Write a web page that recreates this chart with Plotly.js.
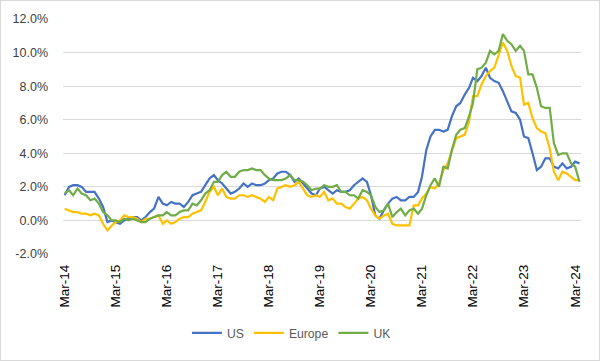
<!DOCTYPE html>
<html>
<head>
<meta charset="utf-8">
<script src="https://cdn.plot.ly/plotly-3.0.1.min.js"></script>
<style>
html,body{margin:0;padding:0;background:#fff;}
#chart{width:598px;height:359px;border:1px solid #d9d9d9;}
</style>
</head>
<body>
<div id="chart"></div>
<script>
// Monthly dates Mar-2014 .. Apr-2024
const startYear = 2014, startMonth = 3, nMonths = 122;
const dates = [];
for (let i = 0; i < nMonths; i++) {
  const m0 = startMonth - 1 + i;
  const y = startYear + Math.floor(m0 / 12);
  const m = (m0 % 12) + 1;
  dates.push(y + '-' + String(m).padStart(2, '0') + '-01');
}

const usValues = [
  1.5, 2.0, 2.1, 2.1, 2.0, 1.7, 1.7, 1.7, 1.3, 0.8,
  -0.1, 0.0, -0.1, -0.2, 0.0, 0.1, 0.2, 0.2, 0.0, 0.2, 0.5, 0.7,
  1.4, 1.0, 0.9, 1.1, 1.0, 1.0, 0.8, 1.1, 1.5, 1.6, 1.7, 2.1,
  2.5, 2.7, 2.4, 2.2, 1.9, 1.6, 1.7, 1.9, 2.2, 2.0, 2.2, 2.1,
  2.1, 2.2, 2.4, 2.5, 2.8, 2.9, 2.9, 2.7, 2.3, 2.5, 2.2, 1.9,
  1.6, 1.5, 1.9, 2.0, 1.8, 1.6, 1.8, 1.7, 1.7, 1.8, 2.1, 2.3,
  2.5, 2.3, 1.5, 0.3, 0.1, 0.6, 1.0, 1.3, 1.4, 1.2, 1.2, 1.4,
  1.4, 1.7, 2.6, 4.2, 5.0, 5.4, 5.4, 5.3, 5.4, 6.2, 6.8, 7.0,
  7.5, 7.9, 8.5, 8.3, 8.6, 9.1, 8.5, 8.3, 8.2, 7.7, 7.1, 6.5,
  6.4, 6.0, 5.0, 4.9, 4.0, 3.0, 3.2, 3.7, 3.7, 3.2, 3.1, 3.4,
  3.1, 3.2, 3.5, 3.4
];

const europeValues = [
  0.7, 0.6, 0.5, 0.5, 0.4, 0.4, 0.3, 0.4, 0.3, -0.2,
  -0.6, -0.3, -0.1, 0.0, 0.3, 0.2, 0.2, 0.1, -0.1, 0.1, 0.1, 0.2,
  0.3, -0.2, 0.0, -0.2, -0.1, 0.1, 0.2, 0.2, 0.4, 0.5, 0.6, 1.1,
  1.7, 2.0, 1.5, 1.9, 1.4, 1.3, 1.3, 1.5, 1.5, 1.4, 1.5, 1.4,
  1.3, 1.1, 1.4, 1.2, 1.9, 2.0, 2.1, 2.0, 2.1, 2.3, 1.9, 1.5,
  1.4, 1.5, 1.4, 1.7, 1.2, 1.3, 1.0, 1.0, 0.8, 0.7, 1.0, 1.3,
  1.4, 1.2, 0.7, 0.3, 0.1, 0.3, 0.4, -0.2, -0.3, -0.3, -0.3, -0.3,
  0.9, 0.9, 1.3, 1.6, 2.0, 1.9, 2.2, 3.0, 3.4, 4.1, 4.9, 5.0,
  5.1, 5.9, 7.4, 7.4, 8.1, 8.6, 8.9, 9.1, 9.9, 10.6, 10.1, 9.2,
  8.6, 8.5, 6.9, 7.0, 6.1, 5.5, 5.3, 5.2, 4.3, 2.9, 2.4, 2.9,
  2.8, 2.6, 2.4, 2.4
];

const ukValues = [
  1.6, 1.8, 1.5, 1.9, 1.6, 1.5, 1.2, 1.3, 1.0, 0.5,
  0.3, 0.0, 0.0, -0.1, 0.1, 0.0, 0.1, 0.0, -0.1, -0.1, 0.1, 0.2,
  0.3, 0.3, 0.5, 0.3, 0.3, 0.5, 0.6, 0.6, 1.0, 0.9, 1.2, 1.6,
  1.8, 2.3, 2.3, 2.7, 2.9, 2.6, 2.6, 2.9, 3.0, 3.0, 3.1, 3.0,
  3.0, 2.7, 2.5, 2.4, 2.4, 2.4, 2.5, 2.7, 2.4, 2.4, 2.3, 2.1,
  1.8, 1.9, 1.9, 2.1, 2.0, 2.0, 2.1, 1.7, 1.7, 1.5, 1.5, 1.3,
  1.8, 1.7, 1.5, 0.8, 0.5, 0.6, 1.0, 0.2, 0.5, 0.7, 0.3, 0.6,
  0.7, 0.4, 0.7, 1.5, 2.1, 2.5, 2.0, 3.2, 3.1, 4.2, 5.1, 5.4,
  5.5, 6.2, 7.0, 9.0, 9.1, 9.4, 10.1, 9.9, 10.1, 11.1, 10.7, 10.5,
  10.1, 10.4, 10.1, 8.7, 8.7, 7.9, 6.8, 6.7, 6.7, 4.6, 3.9, 4.0,
  4.0, 3.4, 3.2, 2.3
];

const seriesNames = ['US', 'Europe', 'UK'];
const seriesColors = ['#4472C4', '#FFC000', '#70AD47'];
const yTickVals = [-2, 0, 2, 4, 6, 8, 10, 12];
const yTickText = yTickVals.map(v => v.toFixed(1) + '%');

const allValues = [usValues, europeValues, ukValues];
const traces = allValues.map((vals, i) => ({
  type: 'scatter',
  mode: 'lines',
  name: seriesNames[i],
  x: dates,
  y: vals,
  line: {color: seriesColors[i], width: 2.2},
  hoverinfo: 'x+y+name'
}));

const xRange = ['2014-02-17', '2024-04-12'];
const fontFam = '"Liberation Sans", Arial, sans-serif';

const layout = {
  width: 598,
  height: 359,
  margin: {l: 62, r: 18, t: 18, b: 104},
  paper_bgcolor: '#ffffff',
  plot_bgcolor: '#ffffff',
  font: {family: fontFam, size: 13, color: '#595959'},
  showlegend: true,
  legend: {
    orientation: 'h',
    x: 0.441, xanchor: 'center',
    y: -0.336, yanchor: 'middle',
    font: {family: fontFam, size: 12.2, color: '#595959'},
    traceorder: 'normal',
    itemwidth: 30
  },
  xaxis: {
    type: 'date',
    range: xRange,
    tick0: '2014-03-01',
    dtick: 'M12',
    tickformat: '%b-%y',
    tickangle: -90,
    ticks: '',
    showgrid: false,
    zeroline: false,
    showline: false,
    ticklabelstandoff: 7,
    tickfont: {family: fontFam, size: 13.5, color: '#000000'}
  },
  xaxis2: {
    type: 'date',
    overlaying: 'x',
    anchor: 'free',
    position: 2 / 14,
    range: xRange,
    tick0: '2014-03-01',
    dtick: 'M12',
    ticks: 'outside',
    ticklen: 4,
    tickwidth: 1,
    tickcolor: '#d9d9d9',
    showticklabels: false,
    showgrid: false,
    showline: false,
    zeroline: false
  },
  yaxis: {
    range: [-2, 12],
    tickvals: yTickVals,
    ticktext: yTickText,
    ticks: '',
    showgrid: true,
    gridcolor: '#d9d9d9',
    gridwidth: 1,
    zeroline: true,
    zerolinecolor: '#d9d9d9',
    zerolinewidth: 1,
    showline: false,
    ticklabelstandoff: 14,
    tickfont: {family: fontFam, size: 12.5, color: '#404040'}
  }
};

Plotly.newPlot('chart', traces, layout, {displayModeBar: false, staticPlot: true});
</script>
</body>
</html>
